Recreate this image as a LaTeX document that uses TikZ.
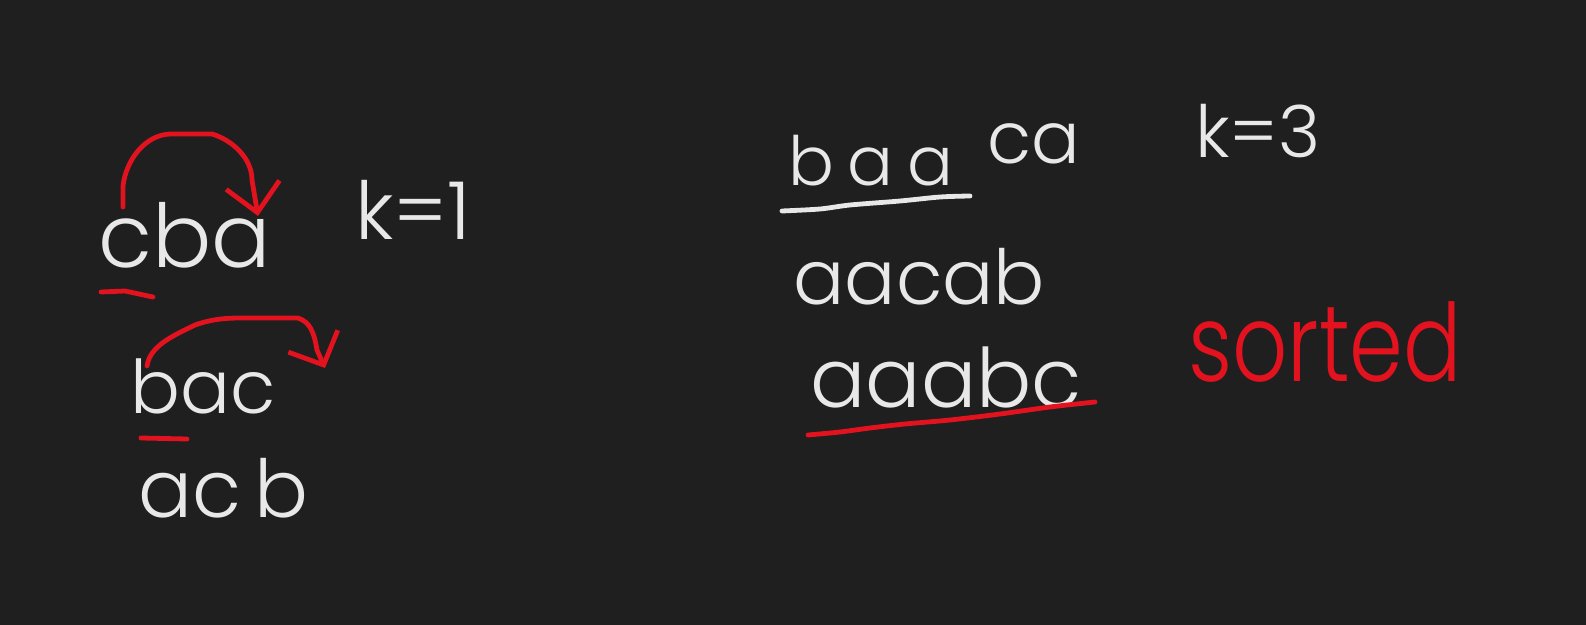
\documentclass[tikz,border=0pt]{standalone}
\usepackage{fontspec}
\newfontfamily\handfont{Poppins Light}
\usetikzlibrary{arrows.meta}
\definecolor{board}{RGB}{31,31,31}
\definecolor{chalk}{RGB}{232,232,232}
\definecolor{ink}{RGB}{226,18,30}

\begin{document}
\begin{tikzpicture}[x=0.5pt,y=-0.5pt,
  word/.style={inner sep=0pt,anchor=base west,text=chalk},
  redword/.style={word,text=ink},
  chalkline/.style={chalk,line width=2.4pt,line cap=round,line join=round},
  redline/.style={ink,line width=2.4pt,line cap=round,line join=round},
  swap/.style={redline,-{Straight Barb[length=#1,width=27pt,line width=2.4pt]}}]
\path[use as bounding box,fill=board] (0,0) rectangle (1586,625);
% left: k=1
\node[word,font=\handfont\fontsize{44}{50}\selectfont] (cba) at (98,268) {cba};
\node[word,font=\handfont\fontsize{40}{46}\selectfont] (kone) at (355,240) {k=1};
\node[word,font=\handfont\fontsize{37}{42}\selectfont] (bac) at (130,414) {bac};
\node[word,font=\handfont\fontsize{40}{46}\selectfont] (acb) at (138,518) {ac\,b};
\coordinate (from1) at (123,207);
\coordinate (to1) at (258,216);
\draw[swap=14pt] (from1) -- (123,186) .. controls (126,160) and (145,135) .. (170,134)
  -- (212,134) .. controls (232,140) and (252,158) .. (252,180) -- (to1);
\draw[redline] (101,292) -- (125,291) -- (153,297);
\coordinate (from2) at (147,366);
\coordinate (to2) at (325,368);
\draw[swap=13pt] (from2) .. controls (150,345) and (175,335) .. (195,325)
  .. controls (215,318) and (230,318) .. (245,318) -- (298,318)
  .. controls (310,322) and (314,332) .. (317,350) -- (to2);
\draw[redline] (141,438) -- (187,439);
% right: k=3
\node[word,font=\handfont\fontsize{34}{40}\selectfont\addfontfeature{LetterSpace=20}] (baa) at (788,186) {baa};
\node[word,font=\handfont\fontsize{36}{42}\selectfont] (ca) at (987,164) {ca};
\node[word,font=\handfont\fontsize{36}{42}\selectfont] (kthree) at (1195,158) {k=3};
\node[word,font=\handfont\fontsize{38}{44}\selectfont] (aacab) at (793,305) {aacab};
\node[word,font=\handfont\fontsize{41}{46}\selectfont] (aaabc) at (810,408) {aaabc};
\node[redword,font=\handfont\fontsize{54}{60}\selectfont] (sorted) at (1188,382) {\scalebox{0.8}[1]{sorted}};
\draw[chalkline] plot[smooth] coordinates {(782,211) (820,209) (850,205) (900,201) (940,197) (970,196)};
\draw[redline] plot[smooth] coordinates {(808,435) (840,432) (870,428) (905,424) (950,420) (1000,414) (1050,407) (1095,402)};
\end{tikzpicture}
\end{document}
